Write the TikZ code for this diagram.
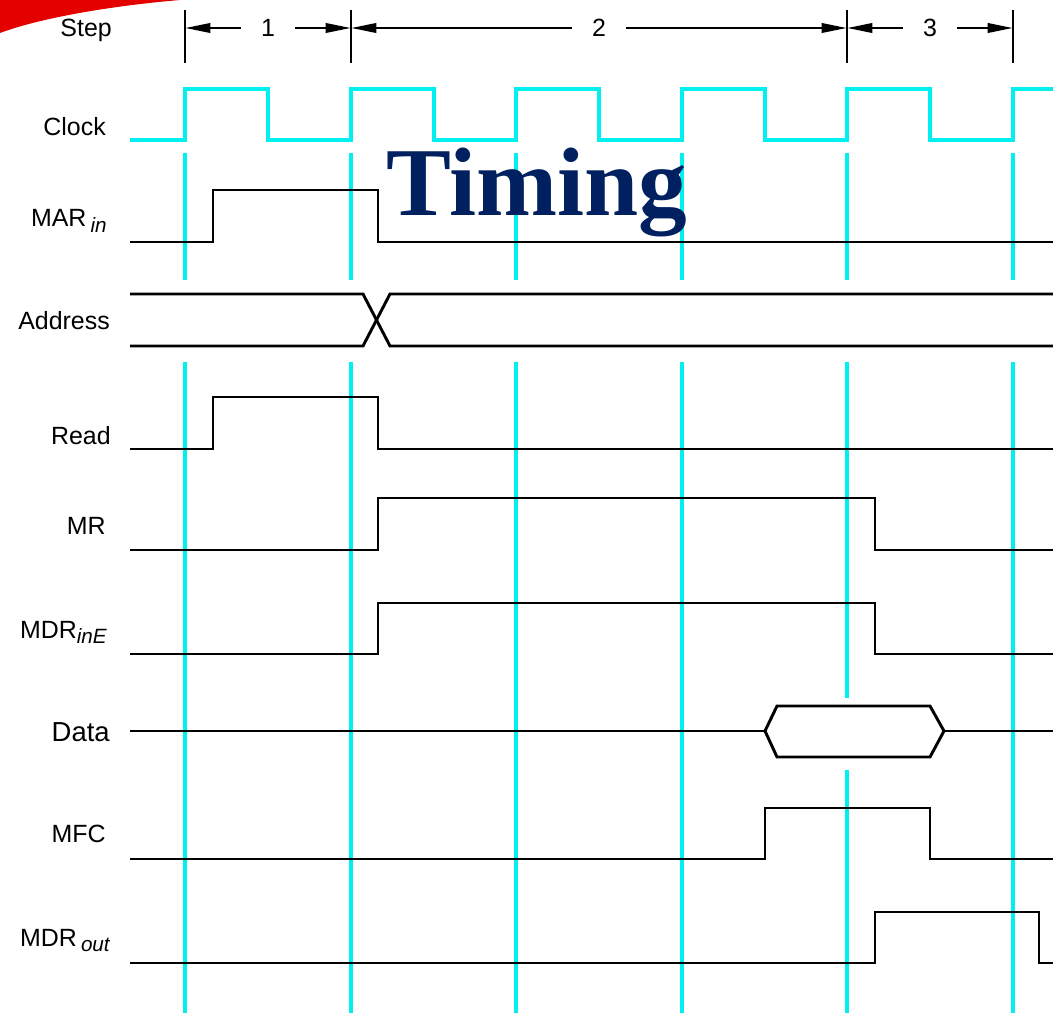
\documentclass[tikz,border=0pt]{standalone}
\usepackage{fontspec}
\setmainfont{Liberation Sans}
\newfontfamily\titlefont{Liberation Serif}
\usetikzlibrary{arrows.meta}
\definecolor{titleblue}{RGB}{0,32,96}
\definecolor{clkcyan}{RGB}{0,240,240}
\newcommand{\sublbl}[1]{\raisebox{-4pt}{\fontsize{15.5}{16}\selectfont\itshape #1}}
\tikzset{
  sig/.style={black,line width=2.2pt},
  clk/.style={clkcyan,line width=2.4pt},
  gridline/.style={clkcyan,line width=2.4pt},
  siglbl/.style={anchor=base east,inner sep=0pt,font=\fontsize{18.7}{20}\selectfont},
  steplbl/.style={inner xsep=15pt,inner ysep=0pt,font=\fontsize{18.7}{20}\selectfont},
  steparr/.style={black,line width=2pt,-{Triangle[length=19pt,width=7pt]}},
  tick/.style={black,line width=2.2pt}
}
\begin{document}
\begin{tikzpicture}[x=0.75pt,y=-0.75pt]
		\useasboundingbox (0,0) rectangle (1053,1013);
		% slide corner
		\fill[red!90!black] (0,0) -- (180,0) .. controls (110,6) and (40,18) .. (0,33) -- cycle;
		% signal names
		\node[siglbl] (lstep) at (112,37) {Step};
		\node[siglbl] (lclk) at (106,136) {Clock};
		\node[siglbl] (lmar) at (107,227) {MAR\,\sublbl{in}};
		\node[siglbl] (laddr) at (110,329) {Address};
		\node[siglbl] (lread) at (111,444) {Read};
		\node[siglbl] (lmr) at (106,534) {MR};
		\node[siglbl] (lmdre) at (107,638) {MDR\sublbl{inE}};
		\node[siglbl,font=\fontsize{20.6}{22}\selectfont] (ldata) at (110,741) {Data};
		\node[siglbl] (lmfc) at (106,842) {MFC};
		\node[siglbl] (lmdro) at (110,946) {MDR\,\sublbl{out}};
		% steps
		\foreach \x/\n in {185/a,351/b,847/c,1013/d}{
			\draw[tick] (\x,10) -- (\x,63);
			\coordinate (tk\n) at (\x,28);
		}
		\node[steplbl] (st1) at (268,28) {1};
		\node[steplbl] (st2) at (599,28) {2};
		\node[steplbl] (st3) at (930,28) {3};
		\path[steparr]
		(st1) edge (tka) edge (tkb)
		(st2) edge (tkb) edge (tkc)
		(st3) edge (tkc) edge (tkd);
		% clock
		\draw[clk] (130,140) \foreach \x in {185,351,516,682,847} { -| (\x,89) -| (\x+83,140) } -| (1013,89) -- (1053,89);
		% guide lines
		\foreach \x in {185,351,516,682,1013}
			\draw[gridline] (\x,153) -- (\x,280) (\x,362) -- (\x,1013);
		\draw[gridline] (847,153) -- (847,280) (847,362) -- (847,698) (847,770) -- (847,1013);
		% signals
		\draw[sig] (130,242) -| (213,190) -| (378,242) -- (1053,242);
		\draw[sig] (130,294) -- (363,294) -- (390,346) -- (1053,346);
		\draw[sig] (130,346) -- (363,346) -- (390,294) -- (1053,294);
		\draw[sig] (130,449) -| (213,397) -| (378,449) -- (1053,449);
		\draw[sig] (130,550) -| (378,498) -| (875,550) -- (1053,550);
		\draw[sig] (130,654) -| (378,603) -| (875,654) -- (1053,654);
		\draw[sig] (130,731) -- (765,731);
		\draw[sig,line join=miter] (765,731) -- (777,706) -- (930,706) -- (944,731) -- (930,757) -- (777,757) -- cycle;
		\draw[sig] (944,731) -- (1053,731);
		\draw[sig] (130,859) -| (765,808) -| (930,859) -- (1053,859);
		\draw[sig] (130,963) -| (875,912) -| (1039,963) -- (1053,963);
		% title
		\node[anchor=base west,inner sep=0pt,text=titleblue,font=\titlefont\bfseries\fontsize{73}{80}\selectfont] (title) at (386,215) {Timing};
\end{tikzpicture}
\end{document}
